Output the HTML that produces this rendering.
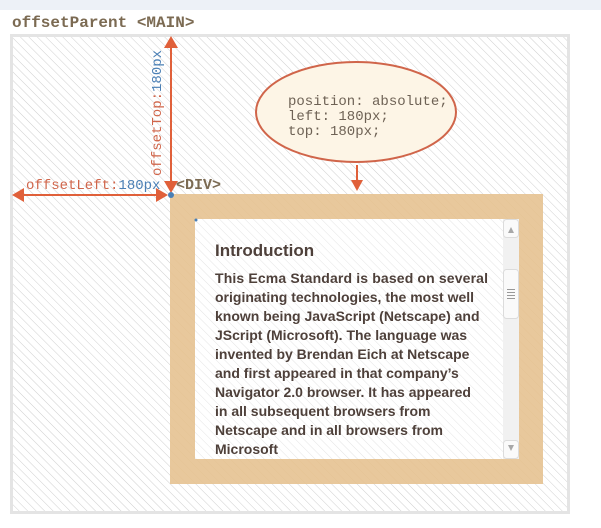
<!DOCTYPE html>
<html><head><meta charset="utf-8"><style>
html,body{margin:0;padding:0;background:#fff;width:601px;height:528px;overflow:hidden}
svg{display:block}
.mono{font-family:"Liberation Mono",monospace}
.sans{font-family:"Liberation Sans",sans-serif;font-weight:bold;fill:#4e403a}
</style></head><body>
<svg width="601" height="528" viewBox="0 0 601 528" xmlns="http://www.w3.org/2000/svg">
<defs>
<pattern id="h" width="6" height="6" patternUnits="userSpaceOnUse" patternTransform="rotate(-45)">
<line x1="0" y1="0" x2="0" y2="6" stroke="#cfcfcf" stroke-width="1"/>
</pattern>
<pattern id="h2" width="6" height="6" patternUnits="userSpaceOnUse" patternTransform="rotate(-45)">
<line x1="0" y1="0" x2="0" y2="6" stroke="#e4e4e4" stroke-width="1"/>
</pattern>
<pattern id="h3" width="6" height="6" patternUnits="userSpaceOnUse" patternTransform="rotate(-45)">
<line x1="0" y1="0" x2="0" y2="6" stroke="#e2bf8e" stroke-width="1"/>
</pattern>
</defs>
<rect x="0" y="0" width="601" height="10" fill="#edf1f7"/>
<text x="12" y="27" class="mono" font-size="16" font-weight="bold" fill="#7b6a52">offsetParent &lt;MAIN&gt;</text>
<rect x="11.5" y="35.5" width="557" height="477" fill="#fff" stroke="#e4e4e4" stroke-width="3"/>
<rect x="13" y="37" width="554" height="474" fill="url(#h)"/>
<!-- DIV -->
<rect x="170" y="194" width="373" height="290" fill="#e8c89c"/>
<rect x="170" y="194" width="373" height="290" fill="url(#h3)" opacity="0.5"/>
<rect x="195" y="219" width="324" height="240" fill="#fff"/>
<rect x="195" y="219" width="308" height="240" fill="url(#h2)"/>
<circle cx="196" cy="220" r="1.5" fill="#4a7fb5"/>
<!-- scrollbar -->
<rect x="503" y="219" width="16" height="240" fill="#f1f1f1"/>
<rect x="503.5" y="219.5" width="15" height="18" rx="3" fill="#fafafa" stroke="#dcdcdc"/>
<path d="M508 233 L511 227 L514 233 Z" fill="#a8a8a8"/>
<rect x="503.5" y="269.5" width="15" height="49" rx="3" fill="#fafafa" stroke="#dcdcdc"/>
<g stroke="#999" stroke-width="1"><line x1="507" y1="289.5" x2="515" y2="289.5"/><line x1="507" y1="292.5" x2="515" y2="292.5"/><line x1="507" y1="295.5" x2="515" y2="295.5"/><line x1="507" y1="298.5" x2="515" y2="298.5"/></g>
<rect x="503.5" y="440.5" width="15" height="18" rx="3" fill="#fafafa" stroke="#dcdcdc"/>
<path d="M508 445 L511 451 L514 445 Z" fill="#a8a8a8"/>
<text x="215" y="256" class="sans" font-size="17">Introduction</text>
<g class="sans" font-size="14">
<text x="215" y="283" textLength="273">This Ecma Standard is based on several</text>
<text x="215" y="302">originating technologies, the most well</text>
<text x="215" y="321">known being JavaScript (Netscape) and</text>
<text x="215" y="340">JScript (Microsoft). The language was</text>
<text x="215" y="359">invented by Brendan Eich at Netscape</text>
<text x="215" y="378">and first appeared in that company’s</text>
<text x="215" y="397">Navigator 2.0 browser. It has appeared</text>
<text x="215" y="416">in all subsequent browsers from</text>
<text x="215" y="435">Netscape and in all browsers from</text>
<text x="215" y="454">Microsoft</text>
</g>
<!-- ellipse -->
<ellipse cx="356" cy="112" rx="100" ry="50" fill="#fdf5e6" stroke="#d0654a" stroke-width="2"/>
<g class="mono" font-size="14" fill="#6e6255">
<text x="288" y="105">position: absolute;</text>
<text x="288" y="120">left: 180px;</text>
<text x="288" y="135">top: 180px;</text>
</g>
<line x1="357" y1="165" x2="357" y2="182" stroke="#e0603a" stroke-width="2"/>
<path d="M351 180 L363 180 L357 191 Z" fill="#e0603a"/>
<!-- arrows -->
<line x1="171" y1="46" x2="171" y2="185" stroke="#e0603a" stroke-width="2"/>
<path d="M164 48 L178 48 L171 36 Z" fill="#e0603a"/>
<path d="M164 181 L178 181 L171 193 Z" fill="#e0603a"/>
<line x1="22" y1="195" x2="160" y2="195" stroke="#e0603a" stroke-width="2"/>
<path d="M24 188 L24 202 L12 195 Z" fill="#e0603a"/>
<path d="M156 188 L156 202 L168 195 Z" fill="#e0603a"/>
<circle cx="171" cy="195" r="3" fill="#4a7fb5"/>
<text x="26" y="189" class="mono" font-size="14"><tspan fill="#d0654a">offsetLeft:</tspan><tspan fill="#4a7fb5">180px</tspan></text>
<text transform="translate(161,176) rotate(-90)" class="mono" font-size="14"><tspan fill="#d0654a">offsetTop:</tspan><tspan fill="#4a7fb5">180px</tspan></text>
<text x="176" y="189" class="mono" font-size="15" font-weight="bold" fill="#7b6a52">&lt;DIV&gt;</text>
</svg>
</body></html>
